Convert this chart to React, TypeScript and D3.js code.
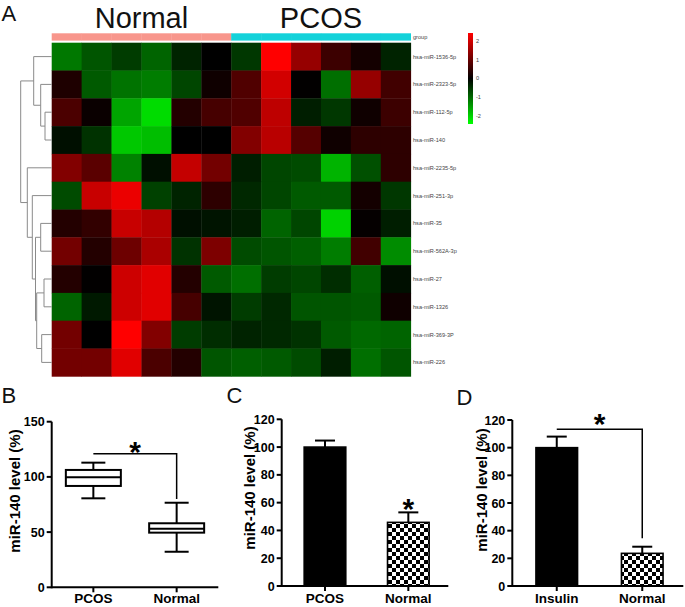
import React from 'react';
import * as d3 from 'd3';

// ---------- Panel A: heatmap data ----------
const samples = ['N1', 'N2', 'N3', 'N4', 'N5', 'N6', 'P1', 'P2', 'P3', 'P4', 'P5', 'P6'];
const sampleGroups = ['Normal', 'Normal', 'Normal', 'Normal', 'Normal', 'Normal', 'PCOS', 'PCOS', 'PCOS', 'PCOS', 'PCOS', 'PCOS'];
const groupTitles = ['Normal', 'PCOS'];
const genes = [
  'hsa-miR-1536-5p', 'hsa-miR-2323-5p', 'hsa-miR-112-5p', 'hsa-miR-140',
  'hsa-miR-2235-5p', 'hsa-miR-251-3p', 'hsa-miR-35', 'hsa-miR-562A-3p',
  'hsa-miR-27', 'hsa-miR-1326', 'hsa-miR-369-3P', 'hsa-miR-226',
];
const heatValues: number[][] = [
  [-1.13, -0.8, -0.56, -0.94, -0.33, 0, -0.52, 2.4, 1.41, 0.56, 0.19, -0.33],
  [0.28, -0.85, -1.08, -1.18, -0.66, 0.14, 0.75, 1.98, 0.02, -1.04, 1.41, 0.61],
  [0.71, 0.09, -1.55, -2.07, 0.33, 0.66, 0.75, 1.79, -0.28, -0.52, 0.14, 0.56],
  [-0.14, -0.47, -1.88, -1.79, 0, 0, 1.22, 1.74, 0.8, 0.14, 0.42, 0.42],
  [1.22, 0.85, -1.22, -0.14, 1.84, 1.08, -0.28, -0.66, -0.71, -1.69, -0.75, 0.42],
  [-0.71, 1.88, 2.21, -0.61, -0.33, 0.42, -0.38, -0.66, -0.85, -0.85, 0.19, -0.52],
  [0.33, 0.47, 1.88, 1.69, -0.14, -0.19, -0.28, -0.94, -0.66, -1.98, 0.05, -0.28],
  [1.08, 0.33, 1.03, 1.6, -0.47, 1.18, -0.71, -0.8, -0.89, -1.18, 0.61, -1.32],
  [0.33, 0.02, 1.93, 2.12, 0.33, -0.85, -1.04, -0.56, -0.66, -0.42, -0.89, -0.14],
  [-0.94, -0.24, 1.93, 2.12, 0.66, -0.19, -0.56, -0.38, -0.8, -0.8, -0.85, 0.14],
  [1.08, 0, 2.4, 1.22, -0.56, -0.42, -0.33, -0.38, -0.47, -0.85, -0.99, -0.94],
  [1.08, 1.08, 2.12, 0.71, 0.33, -0.8, -0.89, -0.85, -0.71, -0.28, -1.04, -0.8],
];
const legendTicks = [2, 1, 0, -1, -2];
type TreeNode = number | { h: number; c: TreeNode[] };
const rowTree: TreeNode = {
  h: 31,
  c: [
    { h: 18, c: [0, { h: 11, c: [1, { h: 6.7, c: [2, 3] }] }] },
    {
      h: 24.4,
      c: [4, {
        h: 19.4,
        c: [5, {
          h: 16.2,
          c: [{ h: 11, c: [6, 7] }, { h: 15, c: [{ h: 7.7, c: [8, 9] }, { h: 10, c: [10, 11] }] }],
        }],
      }],
    },
  ],
};

// ---------- Panel B: box plot ----------
const boxCategories = ['PCOS', 'Normal'];
const boxMin = [80.6, 32.2];
const boxQ1 = [91.8, 49.5];
const boxMedian = [99.6, 53];
const boxQ3 = [106.3, 58];
const boxMax = [112.9, 76.6];
const boxTicks = [0, 50, 100, 150];
const boxSig = [121, 80];

// ---------- Panel C ----------
const barCCategories = ['PCOS', 'Normal'];
const barCMeans = [100, 45.8];
const barCErrors = [4.7, 7.2];

// ---------- Panel D ----------
const barDCategories = ['Insulin', 'Normal'];
const barDMeans = [100, 23.6];
const barDErrors = [8, 4.8];
const barDSig = [113.3, 34.5];

const barTicks = [0, 20, 40, 60, 80, 100, 120];

const FONT = '"Liberation Sans", Arial, Helvetica, sans-serif';
const yTitle = 'miR-140 level (%)';

function YAxis({ x, scale, ticks }: { x: number; scale: d3.ScaleLinear<number, number>; ticks: number[] }) {
  const [r0, r1] = scale.range();
  return (
    <g>
      <line x1={x} x2={x} y1={r0 + 1} y2={r1} stroke="#000" strokeWidth={2} />
      {ticks.map((t) => (
        <g key={t}>
          <line x1={x - 5} x2={x} y1={scale(t)} y2={scale(t)} stroke="#000" strokeWidth={2} />
          <text x={x - 7} y={scale(t)} dy="0.36em" textAnchor="end" fontSize={12.5} fontWeight="bold" fontFamily={FONT}>
            {t}
          </text>
        </g>
      ))}
    </g>
  );
}

function XAxis({ y, x0, x1, scale, cats }: { y: number; x0: number; x1: number; scale: d3.ScalePoint<string>; cats: string[] }) {
  return (
    <g>
      <line x1={x0} x2={x1} y1={y} y2={y} stroke="#000" strokeWidth={2} />
      {cats.map((c) => (
        <g key={c}>
          <line x1={scale(c)} x2={scale(c)} y1={y} y2={y + 5} stroke="#000" strokeWidth={2} />
          <text x={scale(c)} y={603} textAnchor="middle" fontSize={13.5} fontWeight="bold" fontFamily={FONT}>
            {c}
          </text>
        </g>
      ))}
    </g>
  );
}

export default function App() {
  // ----- heatmap -----
  const hmX = d3.scaleBand<string>().domain(samples).range([51.7, 410.7]);
  const hmY = d3.scaleBand<string>().domain(genes).range([42.7, 376.3]);
  const color = d3.scaleLinear<string>().domain([-2.4, 0, 2.4]).range(['#00ff00', '#000000', '#ff0000']);
  const groupColor = d3.scaleOrdinal<string, string>().domain(groupTitles).range(['#F8968C', '#14D2DA']);
  const dendX = d3.scaleLinear().domain([0, 31]).range([51.7, 20.7]);
  const legY = d3.scaleLinear().domain([-2.4, 2.4]).range([124, 33]);

  const segs: string[] = [];
  const layout = (node: TreeNode): { x: number; y: number } => {
    if (typeof node === 'number') {
      return { x: dendX(0), y: (hmY(genes[node]) as number) + hmY.bandwidth() / 2 };
    }
    const kids = node.c.map(layout);
    const x = dendX(node.h);
    segs.push(`M${x},${kids[0].y}V${kids[1].y}`);
    kids.forEach((k) => segs.push(`M${x},${k.y}H${k.x}`));
    return { x, y: (kids[0].y + kids[1].y) / 2 };
  };
  layout(rowTree);

  const groupCenters = groupTitles.map((g) => {
    const xs = samples.filter((_, i) => sampleGroups[i] === g).map((s) => (hmX(s) as number) + hmX.bandwidth() / 2);
    return (d3.min(xs)! + d3.max(xs)!) / 2;
  });

  // ----- panel B -----
  const yB = d3.scaleLinear().domain([0, 150]).range([587.3, 421.7]);
  const xB = d3.scalePoint<string>().domain(boxCategories).range([51.7, 218.3]).padding(0.5);
  const boxHalf = 27.5;
  const capHalf = 12;

  // ----- panel C -----
  const yC = d3.scaleLinear().domain([0, 120]).range([586, 419.3]);
  const xC = d3.scalePoint<string>().domain(barCCategories).range([283.3, 450]).padding(0.5);
  // ----- panel D -----
  const yD = d3.scaleLinear().domain([0, 120]).range([586, 420]);
  const xD = d3.scalePoint<string>().domain(barDCategories).range([514, 685]).padding(0.5);
  const barHalf = 20.8;
  const errCap = 10;

  const bars = (cats: string[], means: number[], errs: number[], xs: d3.ScalePoint<string>, ys: d3.ScaleLinear<number, number>) =>
    cats.map((c, i) => {
      const cx = xs(c) as number;
      const top = ys(means[i]);
      const et = ys(means[i] + errs[i]);
      return (
        <g key={c}>
          <line x1={cx} x2={cx} y1={top} y2={et} stroke="#000" strokeWidth={2} />
          <line x1={cx - errCap} x2={cx + errCap} y1={et} y2={et} stroke="#000" strokeWidth={2} />
          <rect x={cx - barHalf} y={top} width={barHalf * 2} height={ys(0) - top}
            fill={i === 0 ? '#000' : 'url(#checker)'} stroke="#000" strokeWidth={1.6} />
        </g>
      );
    });

  return (
    <svg width={685} height={607} style={{ position: 'absolute', left: 0, top: 0, background: '#fff' }} fontFamily={FONT}>
      <defs>
        <linearGradient id="legendGrad" x1="0" y1="0" x2="0" y2="1">
          <stop offset="0%" stopColor={color(2.4)} />
          <stop offset="50%" stopColor={color(0)} />
          <stop offset="100%" stopColor={color(-2.4)} />
        </linearGradient>
        <pattern id="checker" width={8} height={8} patternUnits="userSpaceOnUse">
          <rect width={8} height={8} fill="#fff" />
          <rect width={4} height={4} fill="#000" />
          <rect x={4} y={4} width={4} height={4} fill="#000" />
        </pattern>
      </defs>
      <rect width={685} height={607} fill="#fff" />

      {/* ---------- Panel A ---------- */}
      <text x={1.5} y={20.7} fontSize={22} fill="#111">A</text>
      {groupTitles.map((g, i) => (
        <text key={g} x={groupCenters[i]} y={27.5} fontSize={29} textAnchor="middle" fill="#111">{g}</text>
      ))}
      {samples.map((s, i) => (
        <rect key={s} x={hmX(s)} y={33.3} width={hmX.bandwidth() + 0.3} height={7.3} fill={groupColor(sampleGroups[i])} />
      ))}
      {genes.map((g, r) =>
        samples.map((s, c) => (
          <rect key={g + s} x={hmX(s)} y={hmY(g)} width={hmX.bandwidth() + 0.4} height={hmY.bandwidth() + 0.4}
            fill={color(heatValues[r][c])} />
        ))
      )}
      <path d={segs.join('')} stroke="#8a8a8a" strokeWidth={1} fill="none" />
      <text x={413} y={37} dy="0.35em" fontSize={5.6} fill="#444">group</text>
      {genes.map((g) => (
        <text key={g} x={413} y={(hmY(g) as number) + hmY.bandwidth() / 2} dy="0.35em" fontSize={5.6} fill="#444">{g}</text>
      ))}
      <rect x={468} y={legY(2.4)} width={5} height={legY(-2.4) - legY(2.4)} fill="url(#legendGrad)" />
      {legendTicks.map((t) => (
        <text key={t} x={476} y={legY(t)} dy="0.35em" fontSize={5.6} fill="#444">{t}</text>
      ))}

      {/* ---------- Panel B ---------- */}
      <text x={1.5} y={403.3} fontSize={22} fill="#111">B</text>
      <text transform="translate(19.5,491) rotate(-90)" textAnchor="middle" fontSize={15} fontWeight="bold">{yTitle}</text>
      {boxCategories.map((c, i) => {
        const cx = xB(c) as number;
        return (
          <g key={c} stroke="#000" strokeWidth={2} fill="none">
            <line x1={cx} x2={cx} y1={yB(boxMax[i])} y2={yB(boxQ3[i])} />
            <line x1={cx} x2={cx} y1={yB(boxQ1[i])} y2={yB(boxMin[i])} />
            <line x1={cx - capHalf} x2={cx + capHalf} y1={yB(boxMax[i])} y2={yB(boxMax[i])} />
            <line x1={cx - capHalf} x2={cx + capHalf} y1={yB(boxMin[i])} y2={yB(boxMin[i])} />
            <rect x={cx - boxHalf} y={yB(boxQ3[i])} width={boxHalf * 2} height={yB(boxQ1[i]) - yB(boxQ3[i])} fill="#fff" />
            <line x1={cx - boxHalf} x2={cx + boxHalf} y1={yB(boxMedian[i])} y2={yB(boxMedian[i])} />
          </g>
        );
      })}
      <path d={`M${xB('PCOS')},${yB(boxSig[0])}H${xB('Normal')}V${yB(boxSig[1])}`} stroke="#000" strokeWidth={1.5} fill="none" />
      <text x={((xB('PCOS') as number) + (xB('Normal') as number)) / 2} y={yB(boxSig[0]) + 8} textAnchor="middle" fontSize={30} fontWeight="bold">*</text>
      <YAxis x={51.7} scale={yB} ticks={boxTicks} />
      <XAxis y={587.3} x0={51.7} x1={218.3} scale={xB} cats={boxCategories} />

      {/* ---------- Panel C ---------- */}
      <text x={226.5} y={403.3} fontSize={22} fill="#111">C</text>
      <text transform="translate(254.5,488) rotate(-90)" textAnchor="middle" fontSize={15} fontWeight="bold">{yTitle}</text>
      {bars(barCCategories, barCMeans, barCErrors, xC, yC)}
      <text x={xC('Normal')} y={yC(barCMeans[1] + barCErrors[1]) + 6.5} textAnchor="middle" fontSize={30} fontWeight="bold">*</text>
      <YAxis x={281.7} scale={yC} ticks={barTicks} />
      <XAxis y={586} x0={281.7} x1={448.3} scale={xC} cats={barCCategories} />

      {/* ---------- Panel D ---------- */}
      <text x={456.5} y={405} fontSize={22} fill="#111">D</text>
      <text transform="translate(486.5,490) rotate(-90)" textAnchor="middle" fontSize={15} fontWeight="bold">{yTitle}</text>
      {bars(barDCategories, barDMeans, barDErrors, xD, yD)}
      <path d={`M${xD('Insulin')},${yD(barDSig[0])}H${xD('Normal')}V${yD(barDSig[1])}`} stroke="#000" strokeWidth={1.5} fill="none" />
      <text x={((xD('Insulin') as number) + (xD('Normal') as number)) / 2} y={yD(barDSig[0]) + 5} textAnchor="middle" fontSize={30} fontWeight="bold">*</text>
      <YAxis x={512.3} scale={yD} ticks={barTicks} />
      <XAxis y={586} x0={512.3} x1={683.3} scale={xD} cats={barDCategories} />
    </svg>
  );
}
